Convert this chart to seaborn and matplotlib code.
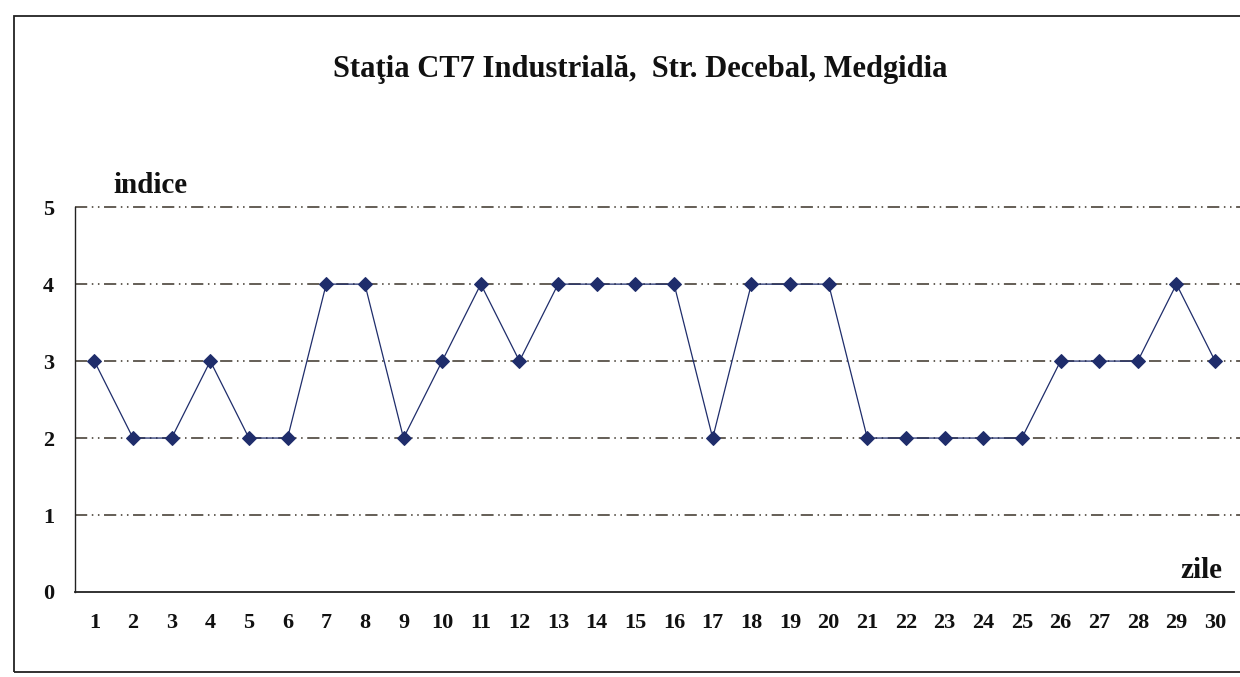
import matplotlib.pyplot as plt
import matplotlib.patches as mpatches
import seaborn as sns
import pandas as pd

# daily index values, Statia CT7 Industriala
zile = list(range(1, 31))
indice = [3, 2, 2, 3, 2, 2, 4, 4, 2, 3,
          4, 3, 4, 4, 4, 4, 2, 4, 4, 4,
          2, 2, 2, 2, 2, 3, 3, 3, 4, 3]
y_ticks = [0, 1, 2, 3, 4, 5]

df = pd.DataFrame({'zile': zile, 'indice': indice})

sns.set_style('white')
plt.rcParams['font.family'] = ['Liberation Serif', 'DejaVu Serif']
plt.rcParams['font.weight'] = 'bold'
plt.rcParams['text.color'] = '#111111'
plt.rcParams['xtick.color'] = '#111111'
plt.rcParams['ytick.color'] = '#111111'

fig = plt.figure(figsize=(12.4, 6.77), dpi=100)
ax = fig.add_axes([0.0605, 0.1256, 0.935, 0.5684])

navy = '#1f2d6b'
for yv in y_ticks[1:]:
    ax.plot([0.5, 30.7], [yv, yv], color='#3a3328', lw=1.1,
            ls=(0, (8, 3, 1, 3, 1, 3)), zorder=1, clip_on=False)

sns.lineplot(data=df, x='zile', y='indice', ax=ax, color=navy, lw=0.9,
             marker='D', markersize=7, markeredgecolor=navy, zorder=3)

ax.set_xlim(0.5, 30.5)
ax.set_ylim(0, 5)
ax.set_yticks(y_ticks)
ax.set_yticklabels([str(v) for v in y_ticks], fontsize=16, fontweight='bold')
ax.set_xticks([z + 0.5 for z in [0] + zile])
ax.set_xticklabels([])
ax.set_xticks(zile, minor=True)
ax.set_xticklabels([str(z) for z in zile], minor=True, fontsize=16, fontweight='bold')
ax.tick_params(axis='x', which='major', direction='out', length=6, width=1.2, color='#222222')
ax.tick_params(axis='x', which='minor', length=0, pad=15)
ax.tick_params(axis='y', direction='out', length=6, width=1.0, color='#222222', pad=9)
ax.set_xlabel('')
ax.set_ylabel('')

for s in ['top', 'right']:
    ax.spines[s].set_visible(False)
ax.spines['left'].set_color('#222222')
ax.spines['bottom'].set_color('#222222')
ax.spines['bottom'].set_linewidth(1.3)
ax.spines['left'].set_linewidth(1.0)

ax.text(1.5, 5.1, 'indice', fontsize=21, fontweight='bold', ha='left', va='bottom')
ax.text(30.2, 0.1, 'zile', fontsize=21, fontweight='bold', ha='right', va='bottom')

fig.text(0.516, 0.897, 'Staţia CT7 Industrială,  Str. Decebal, Medgidia',
         fontsize=22, fontweight='bold', ha='center', va='center')

# outer frame of the chart
fig.patches.append(mpatches.Rectangle((0.011, 0.007), 1.2, 0.97, transform=fig.transFigure,
                                      fill=False, edgecolor='#222222', lw=1.3))

fig.savefig('out.png', dpi=100)
